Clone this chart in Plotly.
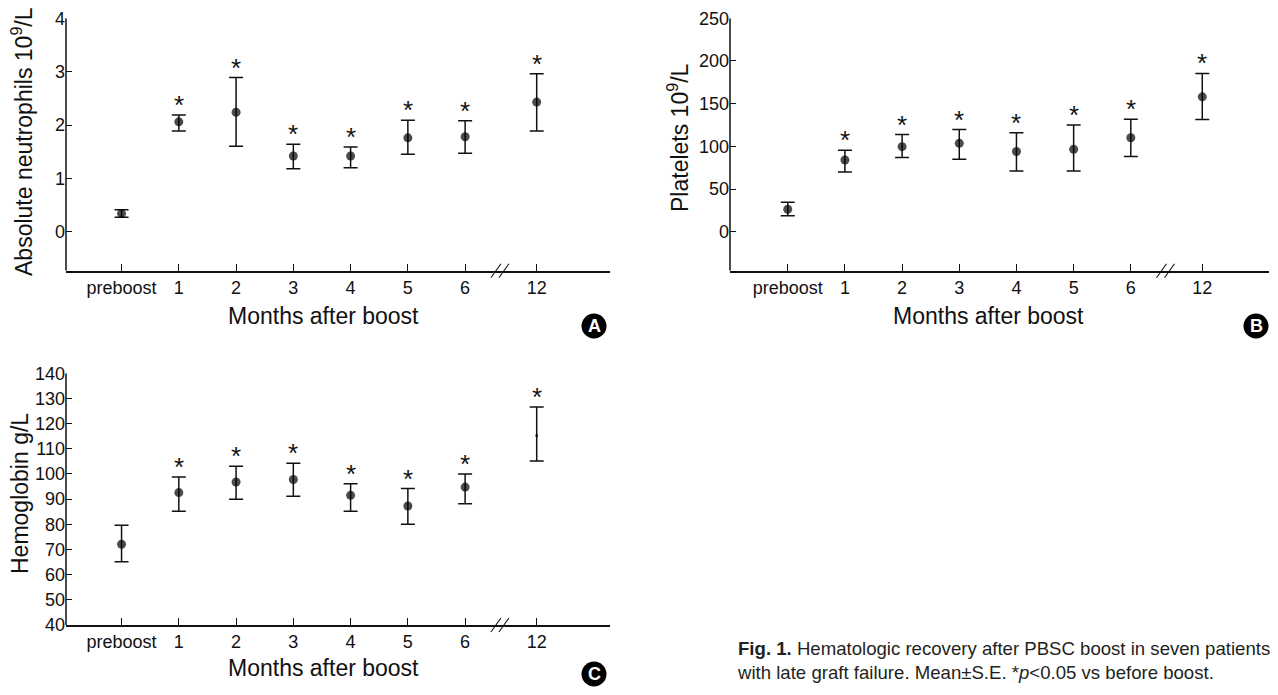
import plotly.graph_objects as go

# ---------------- data ----------------
months = ["preboost", "1", "2", "3", "4", "5", "6", "12"]
signif = [False, True, True, True, True, True, True, True]

neut_mean = [0.34, 2.06, 2.24, 1.42, 1.42, 1.76, 1.78, 2.43]
neut_upper = [0.41, 2.19, 2.89, 1.64, 1.59, 2.09, 2.08, 2.96]
neut_lower = [0.27, 1.89, 1.60, 1.18, 1.20, 1.45, 1.47, 1.89]

plt_mean = [26.3, 84.0, 99.6, 103.5, 94.0, 96.5, 110.0, 158.0]
plt_upper = [34.6, 95.3, 113.8, 119.7, 116.0, 125.0, 131.6, 185.4]
plt_lower = [18.8, 69.9, 87.0, 85.0, 71.0, 71.0, 88.0, 131.5]

hb_mean = [72.1, 92.6, 96.8, 97.8, 91.5, 87.3, 94.8, 115.3]
hb_upper = [79.6, 98.8, 103.1, 104.3, 96.1, 94.2, 100.0, 126.6]
hb_lower = [65.1, 85.2, 90.0, 91.2, 85.2, 80.0, 88.2, 105.2]

neut_ticks = [0, 1, 2, 3, 4]
plt_ticks = [0, 50, 100, 150, 200, 250]
hb_ticks = list(range(40, 150, 10))

# ---------------- style ----------------
FONT = "Liberation Sans, Arial, Helvetica, sans-serif"
INK = "#111111"
PAGE_W, PAGE_H = 1278, 695
OFF = 8  # default body margin of the html page
FW, FH = PAGE_W - 2 * OFF, PAGE_H - 2 * OFF


def px(x):
    return (x - OFF) / FW


def py(y):
    return 1 - (y - OFF) / FH


GAP = 0.25  # extra space for the axis break before month 12
xpos = [i + (GAP if (m != "preboost" and int(m) > 6) else 0) for i, m in enumerate(months)]
brk = (xpos[6] + xpos[7]) / 2

fig = go.Figure()

panels = [
    dict(mean=neut_mean, up=neut_upper, lo=neut_lower, xa="x", ya="y",
         xdom=[px(66), px(610)], ydom=[py(270.7), py(18.3)],
         xr=[-0.97, 8.53], yr=[-0.73, 4], ticks=neut_ticks,
         ytitle="Absolute neutrophils 10<sup>9</sup>/L", ytx=22, yty=142,
         xtx=323, xty=316, lab="A", labx=594, laby=326, sizes=[9] * 8),
    dict(mean=plt_mean, up=plt_upper, lo=plt_lower, xa="x2", ya="y2",
         xdom=[px(730), px(1268.6)], ydom=[py(270.7), py(18.3)],
         xr=[-1.01, 8.41], yr=[-45.7, 250], ticks=plt_ticks,
         ytitle="Platelets 10<sup>9</sup>/L", ytx=678, yty=138,
         xtx=988, xty=316, lab="B", labx=1256, laby=326, sizes=[9] * 8),
    dict(mean=hb_mean, up=hb_upper, lo=hb_lower, xa="x3", ya="y3",
         xdom=[px(66), px(610)], ydom=[py(625), py(373.3)],
         xr=[-0.97, 8.53], yr=[40, 140], ticks=hb_ticks,
         ytitle="Hemoglobin g/L", ytx=20, yty=494,
         xtx=323, xty=668, lab="C", labx=594, laby=674, sizes=[9] * 7 + [3]),
]

annotations = []
shapes = []
layout = {}
for k, p in enumerate(panels):
    sfx = "" if k == 0 else str(k + 1)
    fig.add_trace(go.Scatter(
        x=xpos, y=p["mean"], mode="markers",
        marker=dict(color="black", size=p["sizes"], line=dict(width=0)),
        error_y=dict(type="data", symmetric=False,
                     array=[u - m for u, m in zip(p["up"], p["mean"])],
                     arrayminus=[m - l for m, l in zip(p["mean"], p["lo"])],
                     color=INK, thickness=1.5, width=7),
        xaxis=p["xa"], yaxis=p["ya"], showlegend=False, hoverinfo="skip"))
    layout["xaxis" + sfx] = dict(
        domain=p["xdom"], range=p["xr"], anchor=p["ya"], automargin=False,
        tickvals=xpos, ticktext=months, ticks="inside", ticklen=7,
        tickcolor=INK, tickwidth=1.3, showline=True, linecolor=INK, linewidth=1.5,
        showgrid=False, zeroline=False, tickfont=dict(family=FONT, size=18, color=INK))
    layout["yaxis" + sfx] = dict(
        domain=p["ydom"], range=p["yr"], anchor=p["xa"], automargin=False,
        tickvals=p["ticks"], ticks="inside", ticklen=6,
        tickcolor=INK, tickwidth=1.3, showline=False,
        showgrid=False, zeroline=False, tickfont=dict(family=FONT, size=18, color=INK))
    # y axis line from top tick down to x axis
    shapes.append(dict(type="line", xref=p["xa"] + " domain", yref=p["ya"],
                       x0=0, x1=0, y0=p["yr"][0], y1=p["ticks"][-1],
                       line=dict(color=INK, width=1.5)))
    # axis break marks
    for dx in (-10, -2):
        shapes.append(dict(type="line", xref=p["xa"], yref=p["ya"] + " domain",
                           xsizemode="pixel", xanchor=brk, x0=dx, x1=dx + 10,
                           ysizemode="pixel", yanchor=0, y0=-7, y1=7,
                           line=dict(color=INK, width=1.1)))
    # significance stars
    for xv, u, s in zip(xpos, p["up"], signif):
        if s:
            annotations.append(dict(x=xv, y=u, xref=p["xa"], yref=p["ya"],
                                    text="*", showarrow=False, yanchor="bottom",
                                    yshift=-7, font=dict(family=FONT, size=26, color=INK)))
    # titles
    annotations.append(dict(x=px(p["ytx"]), y=py(p["yty"]), xref="paper", yref="paper",
                            text=p["ytitle"], textangle=-90, showarrow=False,
                            xanchor="center", yanchor="middle",
                            font=dict(family=FONT, size=23, color=INK)))
    annotations.append(dict(x=px(p["xtx"]), y=py(p["xty"]), xref="paper", yref="paper",
                            text="Months after boost", showarrow=False,
                            xanchor="center", yanchor="middle",
                            font=dict(family=FONT, size=23, color=INK)))
    # panel letter
    shapes.append(dict(type="circle", xref="paper", yref="paper",
                       xsizemode="pixel", ysizemode="pixel",
                       xanchor=px(p["labx"]), yanchor=py(p["laby"]),
                       x0=-12.5, x1=12.5, y0=-12.5, y1=12.5,
                       fillcolor="#000000", line=dict(color="#000000", width=0)))
    annotations.append(dict(x=px(p["labx"]), y=py(p["laby"]), xref="paper", yref="paper",
                            text="<b>" + p["lab"] + "</b>", showarrow=False,
                            xanchor="center", yanchor="middle",
                            font=dict(family=FONT, size=18, color="white")))

annotations.append(dict(
    x=px(735), y=py(660), xref="paper", yref="paper", showarrow=False,
    xanchor="left", yanchor="middle", align="left",
    text="<b>Fig. 1.</b> Hematologic recovery after PBSC boost in seven patients<br>"
         "with late graft failure. Mean\u00b1S.E. *<i>p</i>&lt;0.05 vs before boost.",
    font=dict(family=FONT, size=18.6, color="#231f20")))

fig.update_layout(width=FW, height=FH, margin=dict(l=0, r=0, t=0, b=0, autoexpand=False),
                  paper_bgcolor="white", plot_bgcolor="white",
                  annotations=annotations, shapes=shapes, **layout)
fig.write_html("out.html")
